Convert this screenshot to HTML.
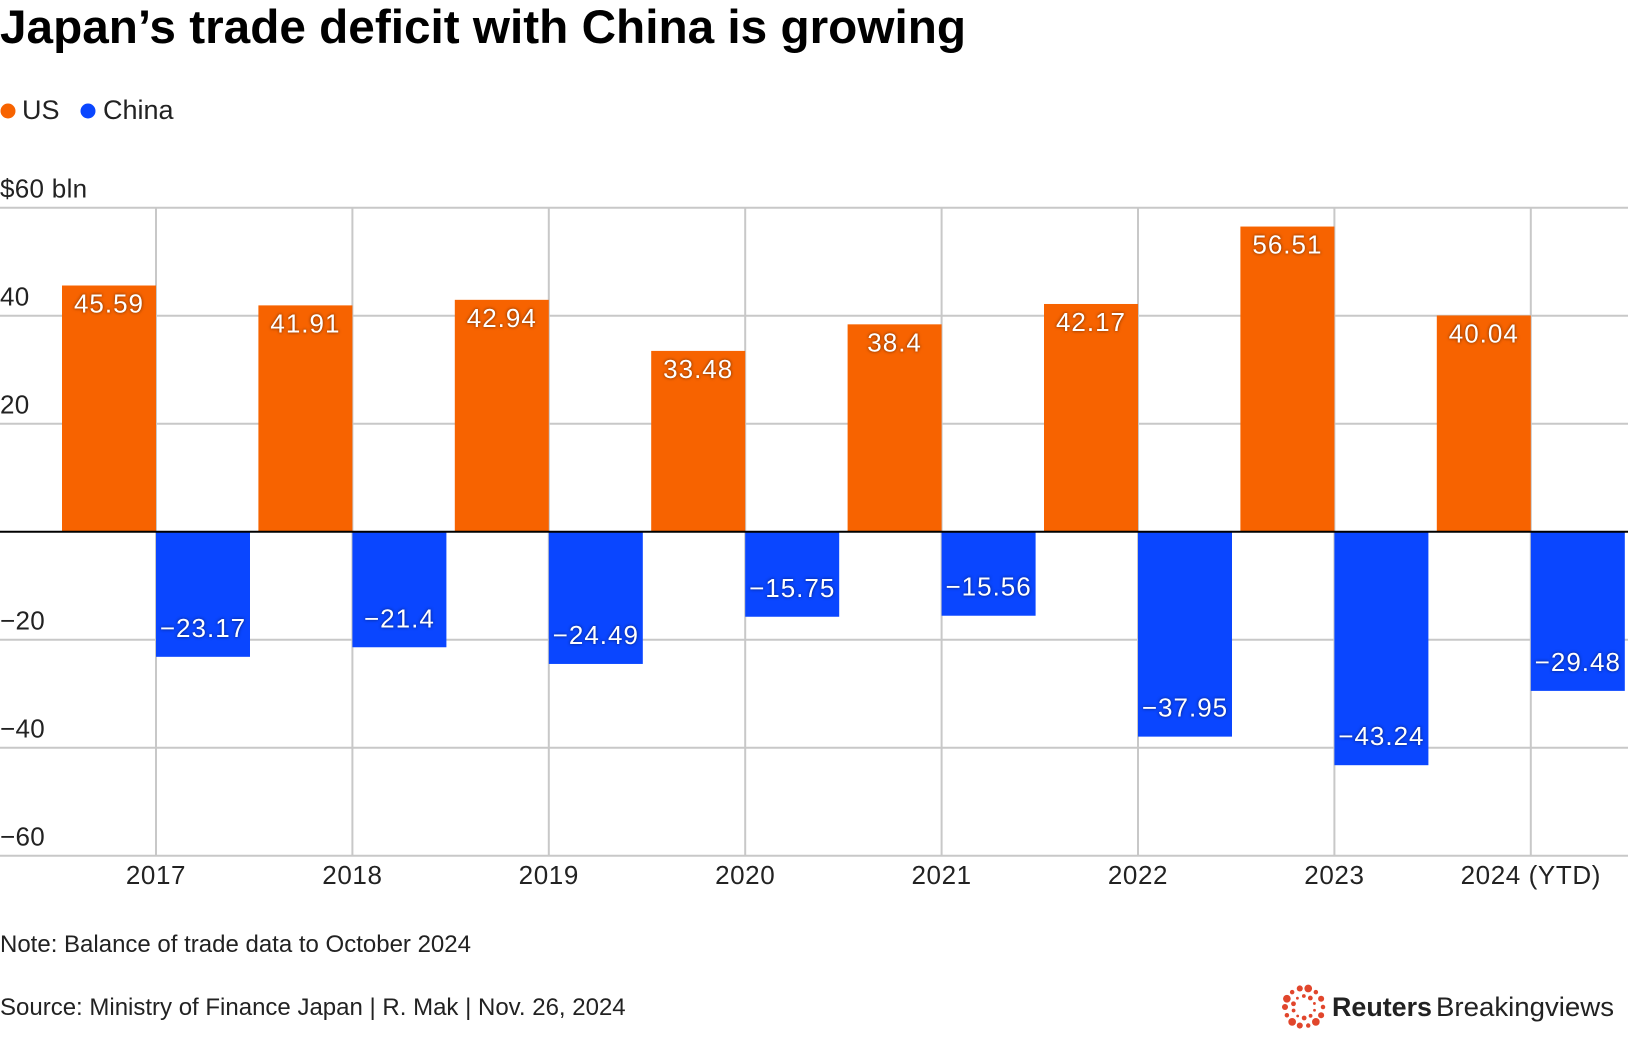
<!DOCTYPE html>
<html><head><meta charset="utf-8"><style>
html,body{margin:0;padding:0;background:#fff}
svg{display:block;font-family:"Liberation Sans",Arial,sans-serif}
</style></head><body>
<svg id="chart" width="1628" height="1056" viewBox="0 0 1628 1056">
<text x="0" y="43" font-size="47" font-weight="bold" fill="#000" textLength="966" lengthAdjust="spacingAndGlyphs">Japan’s trade deficit with China is growing</text>
<g>
<circle cx="8" cy="111" r="7.5" fill="#f76300"/>
<text x="22" y="119" font-size="27" fill="#222">US</text>
<circle cx="88" cy="111" r="7.5" fill="#0a46ff"/>
<text x="103" y="119" font-size="27" fill="#222">China</text>
</g>
<g id="grid"></g><g id="bars"></g><g id="labels"></g>
<text x="0" y="952" font-size="24" fill="#222">Note: Balance of trade data to October 2024</text>
<text x="0" y="1015" font-size="24" fill="#222">Source: Ministry of Finance Japan | R. Mak | Nov. 26, 2024</text>
<g id="logo"></g>
<text x="1332" y="1016" font-size="27" font-weight="bold" fill="#222" textLength="100" lengthAdjust="spacingAndGlyphs">Reuters</text>
<text x="1436" y="1016" font-size="27" fill="#222" textLength="178" lengthAdjust="spacingAndGlyphs">Breakingviews</text>
</svg>
<script>
const categories=["2017","2018","2019","2020","2021","2022","2023","2024 (YTD)"];
const usValues=[45.59,41.91,42.94,33.48,38.4,42.17,56.51,40.04];
const chinaValues=[-23.17,-21.4,-24.49,-15.75,-15.56,-37.95,-43.24,-29.48];
const yTicks=[60,40,20,0,-20,-40,-60];
const yTickLabels=["$60 bln","40","20","","\u221220","\u221240","\u221260"];
const NS="http://www.w3.org/2000/svg";
const y0=531.7, pxPer=5.4, c0=156, step=196.4, bw=94;
const y=v=>y0-v*pxPer;
const x=i=>c0+i*step;
function mk(tag,attrs,parent){const e=document.createElementNS(NS,tag);for(const k in attrs)e.setAttribute(k,attrs[k]);parent.appendChild(e);return e;}
const grid=document.getElementById('grid'),bars=document.getElementById('bars'),labels=document.getElementById('labels');
yTicks.forEach((t,i)=>{
  if(t!==0){const l=mk('line',{x1:0,x2:1628,y1:y(t),y2:y(t),stroke:'#c8c8c8','stroke-width':2},grid);
  
  }
  if(yTickLabels[i]){const tx=mk('text',{x:0,y:y(t)-10,'font-size':26,fill:'#222','letter-spacing':0.3},grid);tx.textContent=yTickLabels[i];
  
  }
});
categories.forEach((c,i)=>{
  const l=mk('line',{x1:x(i),x2:x(i),y1:y(60),y2:y(-60),stroke:'#c8c8c8','stroke-width':2},grid);
  
  
  const tx=mk('text',{x:x(i),y:884,'font-size':26,fill:'#222','text-anchor':'middle','letter-spacing':0.6},grid);tx.textContent=c;
  
  
  const u=usValues[i],ch=chinaValues[i];
  const rb=mk('rect',{x:x(i)-bw,y:y(u),width:bw,height:y(0)-y(u),fill:'#f76300'},bars);
  
  
  const cb=mk('rect',{x:x(i),y:y(0),width:bw,height:y(ch)-y(0),fill:'#0a46ff'},bars);
  
  
  const ul=mk('text',{x:x(i)-bw/2,y:y(u)+27,'font-size':26,fill:'#fff','text-anchor':'middle','letter-spacing':1,style:'text-shadow:0 0 3px rgba(0,0,0,.6)'},labels);
  ul.textContent=String(u);
  
  
  const cl=mk('text',{x:x(i)+bw/2,y:y(ch)-20,'font-size':26,fill:'#fff','text-anchor':'middle','letter-spacing':1,style:'text-shadow:0 0 3px rgba(0,0,0,.6)'},labels);
  cl.textContent='\u2212'+String(Math.abs(ch));
  
  
});
const zl=mk('line',{x1:0,x2:1628,y1:y0,y2:y0,stroke:'#000','stroke-width':2},bars);


const logo=document.getElementById('logo');
[[19,3.2,14],[11,2,10]].forEach(([r,s,n],k)=>{for(let a=0;a<n;a++){const ang=a/n*Math.PI*2+k*0.3;
 mk('circle',{cx:1304+r*Math.cos(ang),cy:1007+r*Math.sin(ang),r:s*(0.7+0.5*((a%3)/2)),fill:'#e1462c'},logo);}});
</script>
</body></html>
